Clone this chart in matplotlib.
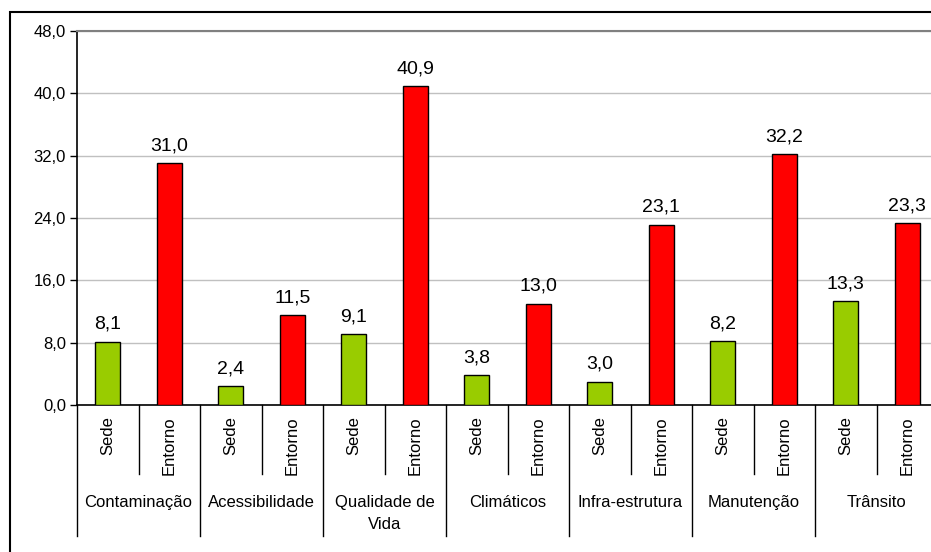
import numpy as np
import matplotlib
matplotlib.use('Agg')
import matplotlib.pyplot as plt
from matplotlib.lines import Line2D
from matplotlib.patches import Rectangle

plt.rcParams['font.family'] = ['Liberation Sans', 'DejaVu Sans']

# Percentages per category, headquarters (Sede) vs surroundings (Entorno)
categorias = ['Contaminação', 'Acessibilidade', 'Qualidade de\nVida', 'Climáticos',
              'Infra-estrutura', 'Manutenção', 'Trânsito']
grupos = ['Sede', 'Entorno']
sede = [8.1, 2.4, 9.1, 3.8, 3.0, 8.2, 13.3]
entorno = [31.0, 11.5, 40.9, 13.0, 23.1, 32.2, 23.3]
yticks = [0, 8, 16, 24, 32, 40, 48]

W, H = 931, 552
fig = plt.figure(figsize=(W / 100, H / 100), dpi=100)

# plot area in pixels (the right edge runs past the figure)
left, right, top, bottom = 77, 938, 31, 405
ax = fig.add_axes([left / W, 1 - bottom / H, (right - left) / W, (bottom - top) / H])
axh = bottom - top

n = len(categorias)
x_sede = np.arange(n) * 2 + 0.5
x_ent = np.arange(n) * 2 + 1.5
bw = 0.41

ax.bar(x_sede, sede, width=bw, color='#99CC00', edgecolor='black', linewidth=1, zorder=3)
ax.bar(x_ent, entorno, width=bw, color='#FF0000', edgecolor='black', linewidth=1, zorder=3)

for xs, vals in ((x_sede, sede), (x_ent, entorno)):
    for xv, v in zip(xs, vals):
        ax.annotate(('%.1f' % v).replace('.', ','), (xv, v), xytext=(0, 6.5),
                    textcoords='offset points', ha='center', va='bottom', fontsize=14)

ax.set_xlim(0, 2 * n)
ax.set_ylim(0, 48)
ax.set_yticks(yticks)
ax.set_yticklabels([('%.1f' % t).replace('.', ',') for t in yticks], fontsize=12)
ax.tick_params(axis='y', direction='out', length=5, width=1, pad=3)
ax.set_xticks([])
ax.yaxis.grid(True, color='#C0C0C0', linewidth=1, zorder=0)
ax.set_axisbelow(True)

for s in ('left', 'bottom'):
    ax.spines[s].set_color('black')
    ax.spines[s].set_linewidth(1.2)
ax.spines['top'].set_color('#808080')
ax.spines['top'].set_linewidth(1.5)
ax.spines['right'].set_visible(False)

# two-level category axis below the bars
tr = ax.get_xaxis_transform()
sub_y = -(416 - bottom) / axh
cat_y = -(495 - bottom) / axh
short_sep = -(474 - bottom) / axh
long_sep = -(536 - bottom) / axh

for i in range(n):
    for j, g in enumerate(grupos):
        ax.text(2 * i + j + 0.5, sub_y, g, transform=tr, rotation=90,
                ha='center', va='top', fontsize=12)
    ax.text(2 * i + 1, cat_y, categorias[i], transform=tr, ha='center', va='top',
            fontsize=12, linespacing=1.6)
    ax.add_line(Line2D([2 * i + 1, 2 * i + 1], [0, short_sep], transform=tr,
                       color='black', linewidth=1, clip_on=False))
for i in range(n + 1):
    ax.add_line(Line2D([2 * i, 2 * i], [0, long_sep], transform=tr,
                       color='black', linewidth=1, clip_on=False))

# chart frame
fig.patches.append(Rectangle((10 / W, -0.1), 2, 1 - 12 / H + 0.1, transform=fig.transFigure,
                             fill=False, edgecolor='black', linewidth=1.5))

fig.savefig('out.png', dpi=100)
